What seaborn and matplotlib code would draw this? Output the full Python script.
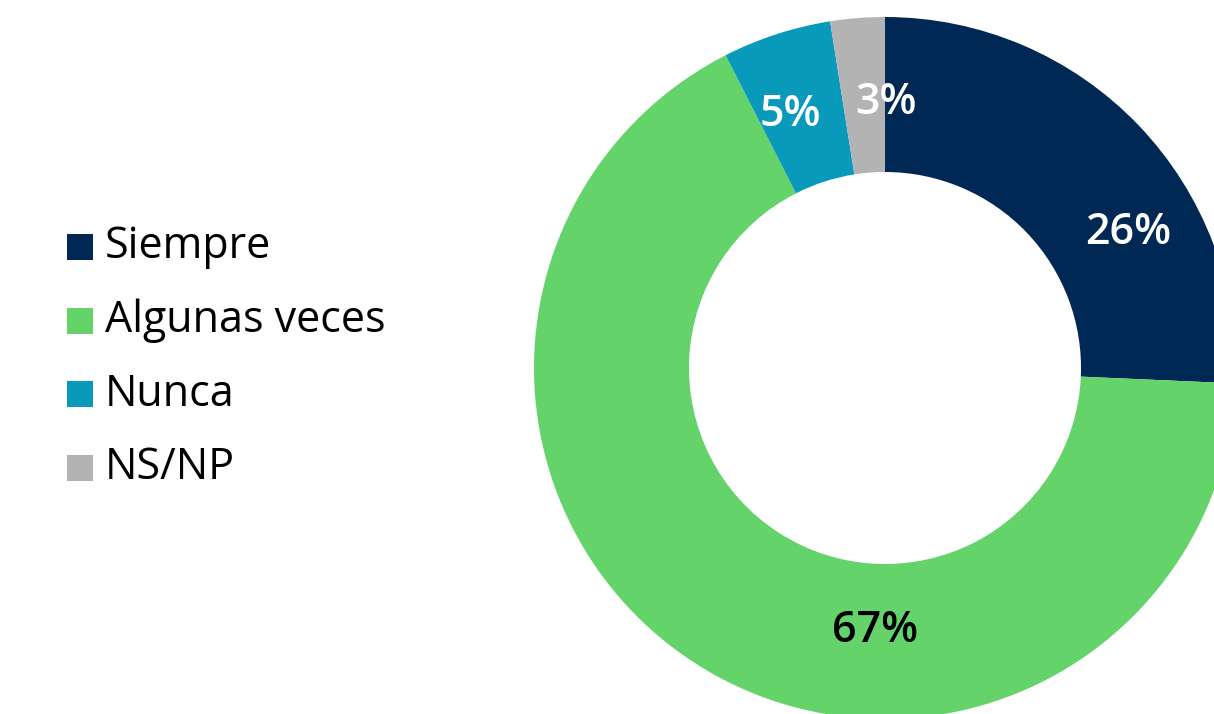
import matplotlib
matplotlib.use("Agg")
import matplotlib.pyplot as plt
import seaborn as sns
from matplotlib.patches import Rectangle

# ---------------------------------------------------
# DATA
# ---------------------------------------------------

categories = ["Siempre", "Algunas veces", "Nunca", "NS/NP"]
shares = [25.7, 66.8, 5.0, 2.5]          # slice sizes
pct_labels = ["26%", "67%", "5%", "3%"]  # printed labels
colors = ["#002855", "#63d36a", "#0899bb", "#b3b3b3"]
label_colors = ["white", "black", "white", "white"]

# label positions in pixels (x, y from top)
label_xy = [(1128, 233), (875, 630), (790, 115), (886, 103)]

W, H = 1214, 714
CX, CY = 885, 368
R_OUT, R_IN = 351, 196

sns.set_theme(style="white")
plt.rcParams["font.family"] = ["Open Sans", "DejaVu Sans"]

fig = plt.figure(figsize=(W / 100, H / 100), dpi=100)
ax = fig.add_axes([0, 0, 1, 1])

# ---------------------------------------------------
# DONUT
# ---------------------------------------------------

ax.pie(
    shares,
    colors=colors,
    startangle=90,
    counterclock=False,
    center=(CX, H - CY),
    radius=R_OUT,
    wedgeprops=dict(width=R_OUT - R_IN, linewidth=0),
)

for (x, y), lab, c in zip(label_xy, pct_labels, label_colors):
    ax.text(x, H - y, lab, color=c, fontsize=31, fontweight=600,
            ha="center", va="center")

# ---------------------------------------------------
# LEGEND
# ---------------------------------------------------

for i, (cat, col) in enumerate(zip(categories, colors)):
    yc = 247 + i * 73.7
    ax.add_patch(Rectangle((67, H - yc - 13), 26, 26, color=col, linewidth=0))
    ax.text(105, H - yc, cat, fontsize=31, color="black", ha="left", va="center")

ax.set_xlim(0, W)
ax.set_ylim(0, H)
ax.set_aspect("equal")
ax.axis("off")

fig.savefig("out.png", dpi=100)
plt.close(fig)
